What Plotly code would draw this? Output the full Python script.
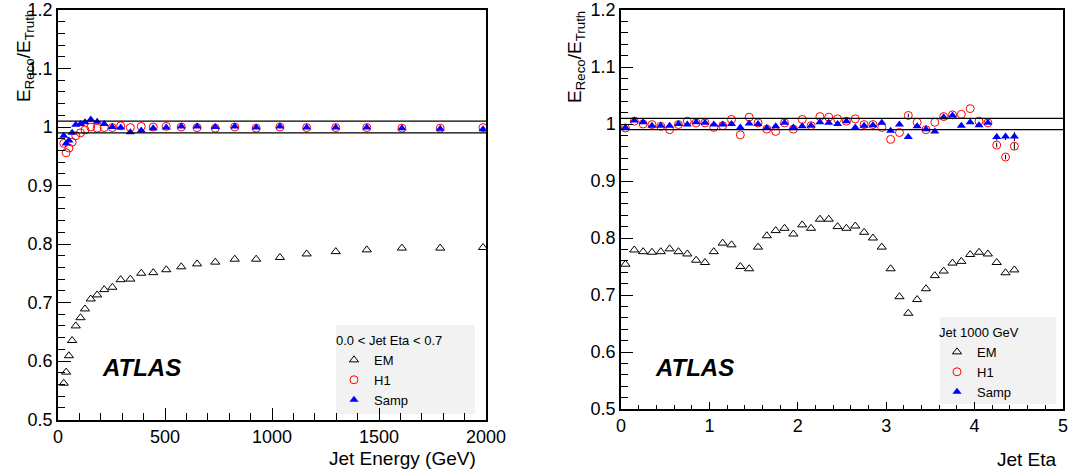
import plotly.graph_objects as go

# ---------------- data: left panel (response vs jet energy, 0.0 < eta < 0.7) ----------------
energy = [27, 38, 51, 66, 83, 105, 126, 153, 183, 216, 254, 293, 338, 389, 445, 506,
          576, 650, 735, 826, 926, 1037, 1162, 1298, 1443, 1607, 1786, 1986]
em_energy = [0.562, 0.581, 0.609, 0.635, 0.660, 0.674, 0.689, 0.706, 0.713, 0.722, 0.726,
             0.739, 0.740, 0.750, 0.751, 0.756, 0.761, 0.766, 0.769, 0.774, 0.774, 0.777,
             0.783, 0.787, 0.790, 0.793, 0.793, 0.794]
h1_energy = [0.972, 0.956, 0.964, 0.974, 0.985, 0.990, 0.995, 1.000, 0.998, 0.999, 0.999,
             1.002, 0.999, 1.001, 1.000, 1.001, 1.000, 0.999, 0.998, 1.000, 0.998, 1.000,
             0.999, 0.999, 0.999, 0.998, 0.998, 0.999]
samp_energy = [0.985, 0.972, 0.977, 0.990, 1.004, 1.005, 1.008, 1.013, 1.009, 1.005, 1.000,
               0.999, 0.991, 0.994, 0.998, 0.999, 1.001, 1.001, 1.000, 1.001, 0.999, 1.001,
               0.999, 0.999, 0.999, 0.998, 0.997, 0.996]

# ---------------- data: right panel (response vs jet eta, 1000 GeV jets) ----------------
eta = [0.05, 0.15, 0.25, 0.35, 0.45, 0.55, 0.65, 0.75, 0.85, 0.95,
       1.05, 1.15, 1.25, 1.35, 1.45, 1.55, 1.65, 1.75, 1.85, 1.95,
       2.05, 2.15, 2.25, 2.35, 2.45, 2.55, 2.65, 2.75, 2.85, 2.95,
       3.05, 3.15, 3.25, 3.35, 3.45, 3.55, 3.65, 3.75, 3.85, 3.95,
       4.05, 4.15, 4.25, 4.35, 4.45]
em_eta = [0.754, 0.779, 0.776, 0.775, 0.776, 0.781, 0.776, 0.772, 0.761, 0.757,
          0.776, 0.791, 0.788, 0.750, 0.746, 0.784, 0.804, 0.813, 0.817, 0.807,
          0.823, 0.817, 0.833, 0.833, 0.820, 0.817, 0.821, 0.810, 0.800, 0.784,
          0.746, 0.697, 0.668, 0.692, 0.711, 0.734, 0.742, 0.756, 0.759, 0.771,
          0.775, 0.772, 0.757, 0.739, 0.744]
h1_eta = [0.993, 1.005, 1.000, 0.999, 0.996, 0.990, 0.999, 1.005, 1.002, 1.002,
          0.994, 0.997, 1.008, 0.981, 1.012, 1.002, 0.991, 0.987, 1.002, 0.991,
          1.008, 0.997, 1.013, 1.012, 1.009, 1.005, 1.009, 0.999, 0.999, 0.994,
          0.973, 0.985, 1.015, 1.003, 0.990, 1.003, 1.013, 1.016, 1.017, 1.027,
          1.005, 1.002, 0.963, 0.942, 0.961]
h1_eta_err = [0, 0, 0, 0, 0, 0, 0, 0, 0, 0,
              0, 0, 0, 0, 0, 0, 0, 0, 0, 0,
              0, 0, 0, 0, 0, 0, 0, 0, 0, 0,
              0, 0, 0.003, 0, 0, 0, 0, 0, 0, 0,
              0, 0, 0.004, 0.004, 0.006]
samp_eta = [0.994, 1.006, 1.003, 0.997, 0.997, 0.997, 1.000, 0.999, 1.003, 1.002,
            0.999, 0.999, 1.000, 0.994, 1.001, 1.000, 0.993, 0.996, 1.002, 0.994,
            0.996, 0.997, 1.003, 1.002, 1.000, 1.005, 0.994, 0.997, 0.998, 1.002,
            0.988, 0.999, 0.977, 0.996, 0.991, 0.987, 1.012, 1.015, 0.997, 1.003,
            0.998, 1.002, 0.977, 0.978, 0.978]
samp_eta_err = [0, 0, 0, 0, 0, 0, 0, 0, 0, 0,
                0, 0, 0, 0, 0, 0, 0, 0, 0, 0,
                0, 0, 0, 0, 0, 0, 0, 0, 0, 0,
                0, 0, 0, 0, 0, 0, 0, 0, 0, 0,
                0, 0, 0.006, 0.006, 0.008]

ref_levels = [0.99, 1.01]
series_names = ["EM", "H1", "Samp"]
left_header = "0.0 < Jet Eta < 0.7"
right_header = "Jet 1000 GeV"

FONT = "Liberation Sans, Arial, Helvetica, sans-serif"
W, H = 1072, 472


def px_x(p):
    return p / W


def px_y(p):
    return (H - p) / H


em_style = dict(symbol="triangle-up-open", size=8, color="black", line=dict(width=1, color="black"))
h1_style = dict(symbol="circle-open", size=8, color="red", line=dict(width=1, color="red"))
samp_style = dict(symbol="triangle-up", size=8, color="blue", line=dict(width=0))

fig = go.Figure()

# left panel
fig.add_trace(go.Scatter(x=energy, y=em_energy, mode="markers", name=series_names[0],
                         marker=em_style, xaxis="x", yaxis="y", legend="legend"))
fig.add_trace(go.Scatter(x=energy, y=h1_energy, mode="markers", name=series_names[1],
                         marker=h1_style, xaxis="x", yaxis="y", legend="legend"))
fig.add_trace(go.Scatter(x=energy, y=samp_energy, mode="markers", name=series_names[2],
                         marker=samp_style, xaxis="x", yaxis="y", legend="legend"))

# right panel
fig.add_trace(go.Scatter(x=eta, y=em_eta, mode="markers", name=series_names[0],
                         marker=em_style, xaxis="x2", yaxis="y2", legend="legend2"))
fig.add_trace(go.Scatter(x=eta, y=h1_eta, mode="markers", name=series_names[1],
                         marker=h1_style, xaxis="x2", yaxis="y2", legend="legend2",
                         error_y=dict(type="data", array=h1_eta_err, color="black",
                                      thickness=1, width=0)))
fig.add_trace(go.Scatter(x=eta, y=samp_eta, mode="markers", name=series_names[2],
                         marker=samp_style, xaxis="x2", yaxis="y2", legend="legend2",
                         error_y=dict(type="data", array=samp_eta_err, color="black",
                                      thickness=1, width=0)))

axis_common = dict(showline=True, linecolor="black", linewidth=1.5, mirror=True,
                   ticks="inside", tickcolor="black", tickwidth=1, automargin=False,
                   showgrid=False, zeroline=False,
                   tickfont=dict(family=FONT, size=18, color="black"))

fig.update_layout(
    width=W, height=H,
    margin=dict(l=0, r=0, t=0, b=0, autoexpand=False),
    paper_bgcolor="white", plot_bgcolor="rgba(0,0,0,0)",
    font=dict(family=FONT, color="black"),
    xaxis=dict(domain=[px_x(58), px_x(486)], range=[0, 2000], anchor="y",
               tick0=0, dtick=500, ticklen=12, tickformat="d",
               minor=dict(dtick=100, ticklen=7, ticks="inside", tickcolor="black", showgrid=False),
               **axis_common),
    yaxis=dict(domain=[px_y(419.5), px_y(10)], range=[0.5, 1.2], anchor="x",
               tick0=0.5, dtick=0.1, ticklen=13,
               minor=dict(dtick=0.02, ticklen=7, ticks="inside", tickcolor="black", showgrid=False),
               **axis_common),
    xaxis2=dict(domain=[px_x(621), px_x(1063)], range=[0, 5], anchor="y2",
                tick0=0, dtick=1, ticklen=7,
                minor=dict(dtick=0.2, ticklen=4, ticks="inside", tickcolor="black", showgrid=False),
                **axis_common),
    yaxis2=dict(domain=[px_y(409), px_y(10)], range=[0.5, 1.2], anchor="x2",
                tick0=0.5, dtick=0.1, ticklen=12,
                minor=dict(dtick=0.02, ticklen=7, ticks="inside", tickcolor="black", showgrid=False),
                **axis_common),
    legend=dict(x=px_x(334), y=px_y(328), xanchor="left", yanchor="top",
                bgcolor="rgba(0,0,0,0)", borderwidth=0,
                font=dict(family=FONT, size=13, color="black"),
                title=dict(text=left_header, font=dict(family=FONT, size=13, color="black")),
                tracegroupgap=0, itemclick=False),
    legend2=dict(x=px_x(937), y=px_y(320), xanchor="left", yanchor="top",
                 bgcolor="rgba(0,0,0,0)", borderwidth=0,
                 font=dict(family=FONT, size=13, color="black"),
                 title=dict(text=right_header, font=dict(family=FONT, size=13, color="black")),
                 tracegroupgap=0, itemclick=False),
    showlegend=True,
)

# reference band lines at 0.99 and 1.01
for xr, yr in (("x domain", "y"), ("x2 domain", "y2")):
    for lvl in ref_levels:
        fig.add_shape(type="line", xref=xr, yref=yr, x0=0, x1=1, y0=lvl, y1=lvl,
                      line=dict(color="black", width=1.2))

# legend background boxes
fig.add_shape(type="rect", xref="paper", yref="paper",
              x0=px_x(336), x1=px_x(475), y0=px_y(414), y1=px_y(325),
              fillcolor="#f2f2f2", line=dict(width=0), layer="below")
fig.add_shape(type="rect", xref="paper", yref="paper",
              x0=px_x(940), x1=px_x(1056), y0=px_y(404), y1=px_y(317),
              fillcolor="#f2f2f2", line=dict(width=0), layer="below")

ytitle = "E<sub>Reco</sub>/E<sub>Truth</sub>"
anns = [
    dict(text=ytitle, x=px_x(25), y=px_y(56), textangle=-90),
    dict(text=ytitle, x=px_x(576), y=px_y(57), textangle=-90),
]
for a in anns:
    fig.add_annotation(xref="paper", yref="paper", showarrow=False,
                       font=dict(family=FONT, size=19, color="black"),
                       xanchor="center", yanchor="middle", **a)

fig.add_annotation(text="Jet Energy (GeV)", xref="paper", yref="paper", x=px_x(478), y=px_y(458),
                   xanchor="right", yanchor="middle", showarrow=False,
                   font=dict(family=FONT, size=19, color="black"))
fig.add_annotation(text="Jet Eta", xref="paper", yref="paper", x=px_x(1059), y=px_y(459),
                   xanchor="right", yanchor="middle", showarrow=False,
                   font=dict(family=FONT, size=19, color="black"))

for cx in (141, 694):
    fig.add_annotation(text="<b><i>ATLAS</i></b>", xref="paper", yref="paper",
                       x=px_x(cx), y=px_y(367), xanchor="center", yanchor="middle",
                       showarrow=False, font=dict(family=FONT, size=24, color="black"))

fig.write_html("out.html",
               config={"displayModeBar": False},
               post_script="document.body.style.margin='0';document.body.style.overflow='hidden';")
